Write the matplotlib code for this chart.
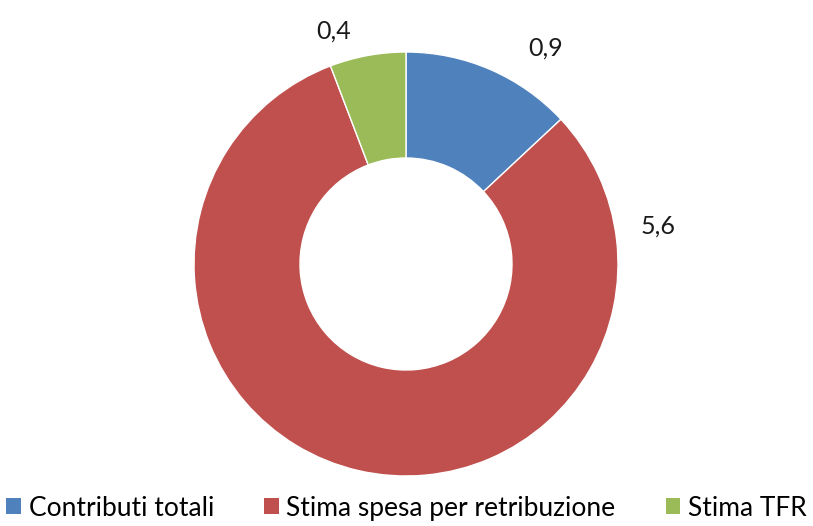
import matplotlib.pyplot as plt
from matplotlib.patches import Patch

labels = ['Contributi totali', 'Stima spesa per retribuzione', 'Stima TFR']
values = [0.9, 5.6, 0.4]
value_text = ['0,9', '5,6', '0,4']
colors = ['#4F81BD', '#C0504D', '#9BBB59']

plt.rcParams['font.family'] = ['Lato', 'DejaVu Sans']

fig = plt.figure(figsize=(8.13, 5.26), dpi=100)
ax = fig.add_axes([0, 0, 1, 1])

ax.pie(values, colors=colors, startangle=90, counterclock=False,
       radius=1.0, wedgeprops=dict(width=0.5, edgecolor='white', linewidth=1))

# label spots (Excel "best fit"-ish)
label_pos = [(0.66, 1.02), (1.19, 0.18), (-0.34, 1.10)]
for (x, y), t in zip(label_pos, value_text):
    ax.text(x, y, t, fontsize=18, ha='center', va='center', color='#1a1a1a')

ax.set_xlim(-406 / 212, (813 - 406) / 212)
ax.set_ylim((264 - 526) / 212, 264 / 212)
ax.set_aspect('auto')
ax.axis('off')

handles = [Patch(facecolor=c, edgecolor='none') for c in colors]
fig.legend(handles, labels, loc='lower center', ncol=3, frameon=False,
           fontsize=19, bbox_to_anchor=(0.5, -0.035), handlelength=0.55,
           handleheight=0.55, handletextpad=0.3, columnspacing=1.9)

fig.savefig('out.png', dpi=100)
